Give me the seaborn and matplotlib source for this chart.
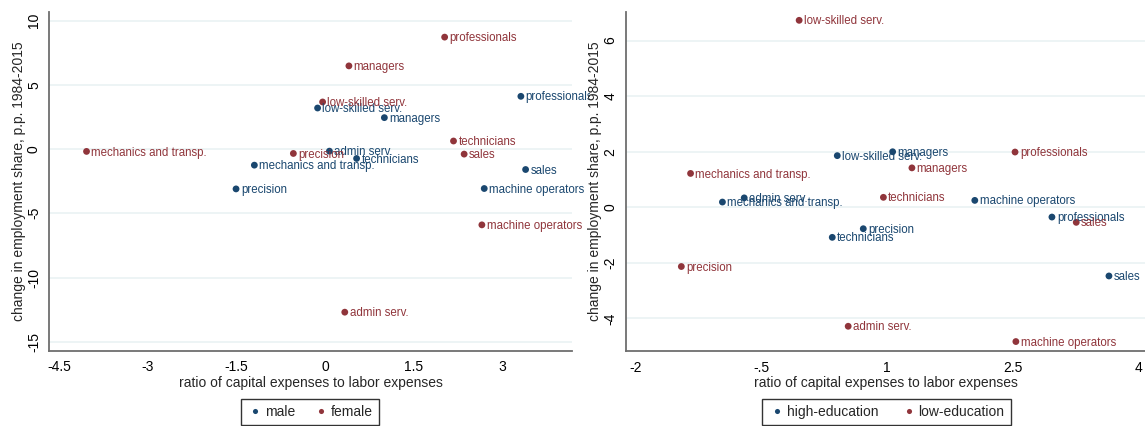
import numpy as np
import pandas as pd
import matplotlib
matplotlib.use("Agg")
import matplotlib.pyplot as plt
from matplotlib.transforms import Bbox, TransformedBbox
import seaborn as sns

# Occupation groups (same order in every series)
occupations = ["managers", "professionals", "technicians", "sales", "admin serv.",
               "low-skilled serv.", "precision", "machine operators",
               "mechanics and transp."]

# Panel 1: by gender
male_x = [1.00, 3.31, 0.53, 3.39, 0.07, -0.13, -1.51, 2.69, -1.20]
male_y = [2.45, 4.11, -0.73, -1.59, -0.16, 3.20, -3.10, -3.07, -1.25]
female_x = [0.40, 2.02, 2.17, 2.35, 0.33, -0.045, -0.54, 2.65, -4.04]
female_y = [6.48, 8.72, 0.63, -0.39, -12.70, 3.67, -0.34, -5.90, -0.18]

# Panel 2: by education
high_x = [1.07, 2.97, 0.35, 3.65, -0.70, 0.41, 0.72, 2.05, -0.96]
high_y = [2.00, -0.35, -1.08, -2.47, 0.34, 1.86, -0.77, 0.25, 0.19]
low_x = [1.30, 2.53, 0.96, 3.26, 0.54, -0.045, -1.45, 2.54, -1.34]
low_y = [1.42, 1.99, 0.36, -0.54, -4.28, 6.73, -2.13, -4.83, 1.22]

left_xticks = [-4.5, -3, -1.5, 0, 1.5, 3]
left_xticklabels = ["-4.5", "-3", "-1.5", "0", "1.5", "3"]
left_yticks = [-15, -10, -5, 0, 5, 10]
right_xticks = [-2, -0.5, 1, 2.5, 4]
right_xticklabels = ["-2", "-.5", "1", "2.5", "4"]
right_yticks = [-4, -2, 0, 2, 4, 6]

NAVY = "#1a476f"
MAROON = "#90353b"
GRID = "#e8f1f3"
SPINE = "#6e6e6e"

sns.set_style("white")
plt.rcParams["font.family"] = ["Liberation Sans", "DejaVu Sans"]

W, H = 1145, 426
fig = plt.figure(figsize=(W / 100, H / 100), dpi=100)


def make_frame(names, xs1, ys1, xs2, ys2, g1, g2):
    return pd.DataFrame({
        "occupation": list(names) * 2,
        "x": list(xs1) + list(xs2),
        "y": list(ys1) + list(ys2),
        "group": [g1] * len(xs1) + [g2] * len(xs2),
    })


def panel(rect, df, groups, xlim, ylim, xticks, xticklabels, yticks,
          legend_center, colspacing, text_clip=None):
    ax = fig.add_axes(rect)
    palette = {groups[0]: NAVY, groups[1]: MAROON}
    sns.scatterplot(data=df, x="x", y="y", hue="group", hue_order=groups,
                    palette=palette, s=24, linewidth=0, ax=ax, zorder=3)
    for _, row in df.iterrows():
        t = ax.annotate(row["occupation"], (row["x"], row["y"]),
                        xytext=(3.5, -0.8), textcoords="offset points",
                        ha="left", va="center", fontsize=8.3,
                        color=palette[row["group"]], zorder=4)
        if text_clip is not None:
            t.set_clip_on(True)
            t.set_clip_box(text_clip)
    ax.set_xlim(*xlim)
    ax.set_ylim(*ylim)
    ax.set_xticks(xticks)
    ax.set_xticklabels(xticklabels)
    ax.set_yticks(yticks)
    ax.set_yticklabels([str(v) for v in yticks], rotation=90, va="center")
    ax.grid(axis="y", color=GRID, linewidth=1.1)
    ax.grid(axis="x", visible=False)
    for side in ("top", "right"):
        ax.spines[side].set_visible(False)
    for side in ("left", "bottom"):
        ax.spines[side].set_color(SPINE)
        ax.spines[side].set_linewidth(1.3)
    ax.tick_params(axis="both", which="major", length=4.5, width=1,
                   color="#333333", labelsize=10, labelcolor="black",
                   direction="out", pad=2.5)
    ax.tick_params(axis="y", pad=1.5)
    ax.set_xlabel("ratio of capital expenses to labor expenses", fontsize=10,
                  labelpad=1)
    ax.set_ylabel("change in employment share, p.p. 1984-2015", fontsize=10,
                  labelpad=1)
    leg = ax.legend(loc="upper center", bbox_to_anchor=(legend_center, 1 - 392 / H),
                    bbox_transform=fig.transFigure, ncol=2, frameon=True,
                    fancybox=False, fontsize=10, handletextpad=0.1,
                    columnspacing=colspacing, borderpad=0.45, handlelength=1.2,
                    markerscale=0.75)
    leg.get_frame().set_edgecolor("black")
    leg.get_frame().set_linewidth(1.0)
    return ax


# Left panel: gender
df_gender = make_frame(occupations, male_x, male_y, female_x, female_y,
                       "male", "female")
clip_left = TransformedBbox(Bbox([[0, 0], [590 / W, 1]]), fig.transFigure)
panel([49.3 / W, 1 - 350.7 / H, (571.7 - 49.3) / W, (350.7 - 11.7) / H],
      df_gender, ["male", "female"], (-4.67, 4.17), (-15.7, 10.7),
      left_xticks, left_xticklabels, left_yticks, 310 / W, 1.3,
      text_clip=clip_left)

# Right panel: education
df_edu = make_frame(occupations, high_x, high_y, low_x, low_y,
                    "high-education", "low-education")
panel([626 / W, 1 - 351 / H, (W - 626) / W, (351 - 11.7) / H],
      df_edu, ["high-education", "low-education"], (-2.11, 4.08), (-5.17, 7.04),
      right_xticks, right_xticklabels, right_yticks, 886.5 / W, 1.6)

fig.savefig("out.png", dpi=100, facecolor="white")
